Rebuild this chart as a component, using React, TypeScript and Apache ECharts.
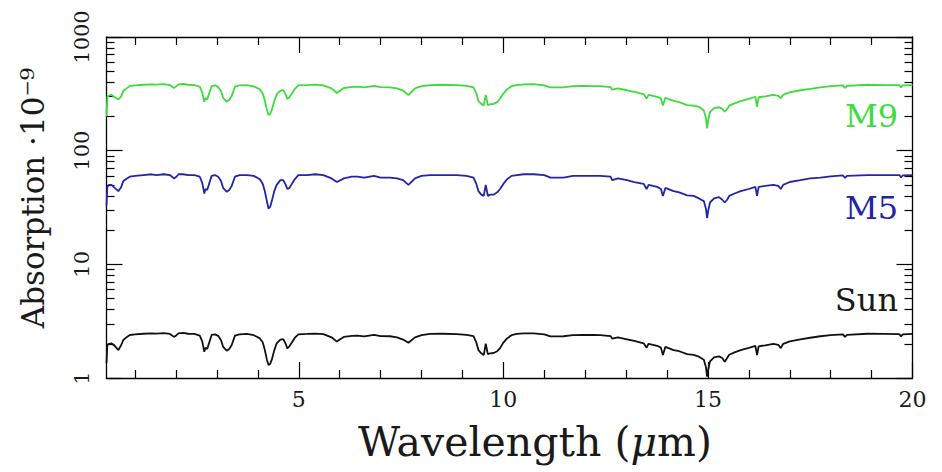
import React, { useEffect, useRef } from "react";
import * as echarts from "echarts";

// Wavelength grid (micrometres)
const wavelength: number[] = [
  0.30, 0.32, 0.36, 0.42, 0.50, 0.59, 0.66, 0.71, 0.80, 0.87,
  1.0, 1.2, 1.4, 1.52, 1.7, 1.85, 1.95, 2.01, 2.06, 2.17,
  2.3, 2.45, 2.58, 2.64, 2.69, 2.72, 2.76, 2.87, 2.95, 3.03,
  3.1, 3.15, 3.24, 3.3, 3.36, 3.44, 3.55, 3.73, 3.9, 4.05,
  4.12, 4.17, 4.22, 4.26, 4.3, 4.34, 4.4, 4.46, 4.55, 4.62,
  4.68, 4.72, 4.77, 4.83, 4.9, 4.99, 5.2, 5.4, 5.6, 5.8,
  5.93, 6.02, 6.1, 6.3, 6.43, 6.6, 6.84, 7.0, 7.23, 7.4,
  7.55, 7.68, 7.84, 8.0, 8.21, 8.5, 8.86, 9.1, 9.27, 9.34,
  9.39, 9.46, 9.52, 9.57, 9.62, 9.68, 9.76, 9.85, 9.92, 10.0,
  10.09, 10.2, 10.33, 10.5, 10.74, 11.0, 11.15, 11.47, 11.7, 11.96,
  12.2, 12.37, 12.62, 12.66, 12.8, 13.02, 13.2, 13.43, 13.5, 13.55,
  13.76, 13.85, 13.9, 13.96, 14.16, 14.3, 14.49, 14.65, 14.78, 14.9,
  14.95, 14.98, 15.01, 15.05, 15.15, 15.27, 15.35, 15.41, 15.47, 15.52,
  15.65, 15.8, 16.0, 16.16, 16.2, 16.24, 16.4, 16.6, 16.72, 16.78,
  16.84, 17.0, 17.26, 17.5, 17.75, 18.0, 18.3, 18.35, 18.4, 18.9,
  19.3, 19.68, 19.72, 19.76, 20.0,
];

// Absorption (x 1e-9)
const sunValues: number[] = [
  1.35, 1.95, 2.0, 2.02, 1.92, 1.76, 1.95, 2.16, 2.30, 2.39,
  2.42, 2.45, 2.47, 2.46, 2.48, 2.44, 2.30, 2.38, 2.47, 2.49,
  2.45, 2.44, 2.36, 2.10, 1.70, 1.85, 1.80, 2.39, 2.42, 2.35,
  2.15, 1.88, 1.74, 1.80, 1.95, 2.36, 2.42, 2.44, 2.38, 2.23,
  2.05, 1.76, 1.45, 1.30, 1.33, 1.45, 1.75, 2.02, 2.18, 2.20,
  2.00, 1.82, 1.90, 2.05, 2.25, 2.42, 2.44, 2.46, 2.43, 2.28,
  2.09, 2.20, 2.30, 2.35, 2.36, 2.32, 2.40, 2.34, 2.33, 2.28,
  2.18, 2.04, 2.28, 2.38, 2.44, 2.45, 2.43, 2.40, 2.33, 2.05,
  1.76, 1.65, 1.59, 2.00, 1.62, 1.65, 1.66, 1.72, 1.83, 2.05,
  2.23, 2.38, 2.44, 2.47, 2.47, 2.42, 2.32, 2.33, 2.38, 2.40,
  2.39, 2.38, 2.34, 2.22, 2.28, 2.19, 2.12, 2.02, 1.85, 2.00,
  1.92, 1.85, 1.59, 1.88, 1.76, 1.72, 1.62, 1.60, 1.54, 1.45,
  1.25, 1.03, 1.20, 1.40, 1.52, 1.55, 1.50, 1.39, 1.50, 1.60,
  1.68, 1.76, 1.84, 1.92, 1.59, 1.90, 1.94, 2.00, 1.96, 1.83,
  2.00, 2.10, 2.19, 2.26, 2.33, 2.38, 2.42, 2.30, 2.40, 2.45,
  2.44, 2.43, 2.32, 2.42, 2.44,
];

const m5Values: number[] = [
  33, 48, 50, 50, 47, 44, 48, 54, 57, 59,
  60, 61, 62, 61, 62, 61, 57, 59, 62, 62,
  61, 61, 59, 52, 42, 46, 45, 60, 61, 59,
  54, 47, 43.5, 45, 49, 59, 61, 61, 60, 56,
  51, 44, 36, 31, 32, 36, 44, 50, 55, 55,
  50, 46, 47, 51, 56, 61, 61, 62, 61, 57,
  53, 55, 57, 59, 59, 58, 60, 58, 58, 57,
  55, 50, 57, 60, 61, 61, 61, 60, 58, 51,
  44, 41, 40, 50, 40, 41, 41, 43, 46, 51,
  56, 60, 61, 62, 62, 61, 58, 58, 60, 60,
  60, 60, 59, 55, 57, 55, 53, 51, 46, 50,
  48, 46, 40, 47, 44, 43, 40.5, 40, 38, 36,
  31, 25.5, 30, 35, 38, 39, 37, 35, 37, 40,
  42, 44, 46, 48, 40, 48, 49, 50, 49, 46,
  50, 53, 55, 57, 58, 59.5, 60.5, 57.5, 60, 61,
  61, 61, 58, 60.5, 61,
];

const m9Values: number[] = [
  200, 298, 305, 310, 295, 282, 300, 335, 355, 370,
  375, 380, 383, 381, 385, 378, 355, 370, 383, 386,
  380, 378, 365, 325, 269, 290, 282, 370, 375, 364,
  333, 292, 269, 280, 302, 366, 375, 378, 368, 346,
  318, 275, 230, 206, 210, 228, 272, 313, 338, 341,
  310, 285, 295, 318, 348, 375, 378, 381, 376, 353,
  322, 340, 356, 364, 366, 360, 372, 362, 361, 353,
  338, 308, 353, 369, 378, 380, 377, 372, 361, 318,
  273, 258, 250, 310, 252, 256, 258, 267, 288, 318,
  346, 369, 378, 383, 385, 375, 360, 361, 369, 372,
  370, 369, 363, 344, 353, 340, 329, 315, 287, 310,
  298, 287, 250, 292, 274, 267, 252, 249, 243, 226,
  195, 157, 188, 218, 237, 241, 233, 220, 233, 249,
  261, 273, 285, 298, 243, 295, 301, 310, 304, 290,
  310, 326, 340, 350, 361, 369, 375, 357, 372, 380,
  378, 377, 360, 375, 378,
];

const xMajorTicks: number[] = [5, 10, 15, 20];
const xMinorTicks: number[] = [1, 2, 3, 4, 6, 7, 8, 9, 11, 12, 13, 14, 16, 17, 18, 19];
const yDecades: number[] = [1, 10, 100];
const yMinorMultipliers: number[] = [2, 3, 4, 5, 6, 7, 8, 9];

const seriesNames = ["Sun", "M5", "M9"];
const seriesColors = ["#111111", "#2424a6", "#3cdc3c"];

const FONT = "DejaVu Serif";
const TEXT = "#1a1a1a";

function zip(xs: number[], ys: number[]): number[][] {
  const n = Math.min(xs.length, ys.length);
  const out: number[][] = [];
  for (let i = 0; i < n; i++) out.push([xs[i], ys[i]]);
  return out;
}

export default function App() {
  const ref = useRef<HTMLDivElement>(null);

  useEffect(() => {
    if (!ref.current) return;
    const chart = echarts.init(ref.current, undefined, { renderer: "svg" });

    const yMinorLog: number[] = [];
    yDecades.forEach((d) => yMinorMultipliers.forEach((m) => yMinorLog.push(Math.log10(d * m))));

    const axisLine = { show: true, lineStyle: { color: "#000", width: 1.3 } };
    const noLine = { show: false };
    const tickStyle = { color: "#000", width: 1.2 };

    const xBase = { type: "value", min: 0.3, max: 20, splitLine: { show: false } };
    const xAxes = [
      {
        ...xBase,
        position: "bottom",
        axisLine,
        axisTick: { show: true, inside: true, length: 16, customValues: xMajorTicks, lineStyle: tickStyle },
        axisLabel: { show: true, customValues: xMajorTicks, fontFamily: FONT, fontSize: 22, color: TEXT, margin: 10 },
      },
      {
        ...xBase,
        position: "bottom",
        axisLine: noLine,
        axisTick: { show: true, inside: true, length: 8, customValues: xMinorTicks, lineStyle: tickStyle },
        axisLabel: { show: false },
      },
      {
        ...xBase,
        position: "top",
        axisLine,
        axisTick: { show: true, inside: true, length: 16, customValues: xMajorTicks, lineStyle: tickStyle },
        axisLabel: { show: false },
      },
      {
        ...xBase,
        position: "top",
        axisLine: noLine,
        axisTick: { show: true, inside: true, length: 8, customValues: xMinorTicks, lineStyle: tickStyle },
        axisLabel: { show: false },
      },
    ];

    const yLogBase = { type: "log", logBase: 10, min: 1, max: 1000, splitLine: { show: false } };
    const yLinBase = { type: "value", min: 0, max: 3, splitLine: { show: false } };
    const yAxes = [
      {
        ...yLogBase,
        position: "left",
        axisLine,
        axisTick: { show: true, inside: true, length: 16, lineStyle: tickStyle },
        axisLabel: {
          show: true,
          rotate: 90,
          fontFamily: FONT,
          fontSize: 21,
          color: TEXT,
          margin: 14,
          formatter: (v: number) => String(Math.round(v)),
        },
      },
      {
        ...yLinBase,
        position: "left",
        axisLine: noLine,
        axisTick: { show: true, inside: true, length: 8, customValues: yMinorLog, lineStyle: tickStyle },
        axisLabel: { show: false },
      },
      {
        ...yLogBase,
        position: "right",
        axisLine,
        axisTick: { show: true, inside: true, length: 16, lineStyle: tickStyle },
        axisLabel: { show: false },
      },
      {
        ...yLinBase,
        position: "right",
        axisLine: noLine,
        axisTick: { show: true, inside: true, length: 8, customValues: yMinorLog, lineStyle: tickStyle },
        axisLabel: { show: false },
      },
    ];

    const seriesData = [zip(wavelength, sunValues), zip(wavelength, m5Values), zip(wavelength, m9Values)];

    const option: any = {
      animation: false,
      backgroundColor: "#ffffff",
      grid: { left: 106.5, right: 29.5, top: 37, bottom: 94, containLabel: false },
      xAxis: xAxes,
      yAxis: yAxes,
      series: seriesData.map((d, i) => ({
        name: seriesNames[i],
        type: "line",
        xAxisIndex: 0,
        yAxisIndex: 0,
        data: d,
        showSymbol: false,
        symbol: "none",
        lineStyle: { color: seriesColors[i], width: 1.8 },
        clip: true,
      })),
      graphic: [
        {
          type: "text",
          x: 898,
          y: 116,
          style: { text: "M9", fill: seriesColors[2], font: `32px '${FONT}'`, textAlign: "right", textVerticalAlign: "middle" },
        },
        {
          type: "text",
          x: 898,
          y: 208,
          style: { text: "M5", fill: seriesColors[1], font: `32px '${FONT}'`, textAlign: "right", textVerticalAlign: "middle" },
        },
        {
          type: "text",
          x: 898,
          y: 300,
          style: { text: "Sun", fill: TEXT, font: `32px '${FONT}'`, textAlign: "right", textVerticalAlign: "middle" },
        },
        {
          type: "text",
          x: 535,
          y: 442,
          style: {
            text: "{a|Wavelength (}{b|μ}{a|m)}",
            textAlign: "center",
            textVerticalAlign: "middle",
            rich: {
              a: { fontFamily: FONT, fontSize: 41, fill: TEXT, lineHeight: 42 },
              b: { fontFamily: FONT, fontSize: 41, fontStyle: "italic", fill: TEXT, lineHeight: 42 },
            },
          },
        },
        {
          type: "text",
          x: 33,
          y: 198,
          rotation: Math.PI / 2,
          style: {
            text: "Absorption ·10⁻⁹",
            fill: TEXT,
            font: `31px '${FONT}'`,
            textAlign: "center",
            textVerticalAlign: "middle",
          },
        },
      ],
    };

    chart.setOption(option);
    return () => chart.dispose();
  }, []);

  return <div ref={ref} style={{ position: "fixed", left: 0, top: 0, width: 942, height: 472 }} />;
}
